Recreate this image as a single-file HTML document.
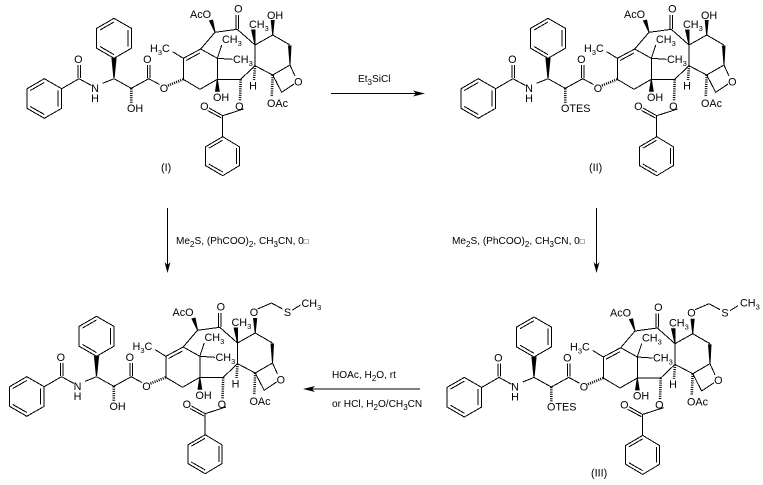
<!DOCTYPE html>
<html><head><meta charset="utf-8"><style>
html,body{margin:0;padding:0;background:#fff}
svg{display:block}
text{font-family:"Liberation Sans",sans-serif;font-size:10.8px;fill:#000}
text.r{font-size:10.1px}
.a{text-anchor:middle}
.l{stroke:#000;stroke-width:1;fill:none;shape-rendering:crispEdges}
.h{stroke:#000;stroke-width:2.6;stroke-dasharray:1 1.2;fill:none}
.w{fill:#000;stroke:none}
</style></head><body>
<svg width="763" height="485" viewBox="0 0 763 485" xmlns="http://www.w3.org/2000/svg">
<defs>
<g id="core">
<g class="l">
<path d="M44.3 78.7L61.7 88.7V108.3L44.3 118.3L27 108.3V88.7Z"/>
<path d="M44.3 82.5L30.3 90.5M58.2 90.5V106.5M44.3 114.5L30.3 106.5"/>
<path d="M61.7 88.7L79 78.7L91.5 85.5M102.7 83.3L114 78.7L131.3 88.3L148.7 78.7L159.5 84.5"/>
<path d="M78 65V78M80.5 65V78M147.5 65V78M150 65V78"/>
<path d="M114 18.3L131.3 28.3V48.3L114 58.3L96.7 48.3V28.3Z"/>
<path d="M114 22L100 30M128 30V46.5M114 54.6L100 46.5"/>
<path d="M172.7 51.7L183.3 58.3V79.3L200 89.3L217.3 79.3V58.3L200.7 49L183.3 58.3M186 60.5L200 53"/>
<path d="M200.7 49L215 32.3L237.3 29.3L255 45L272.7 35L290 45M255 45V65.7"/>
<path d="M236 15V29M238.5 15V29"/>
<path d="M217.3 58.3L221.7 45M217.3 58.3L232.3 59.3"/>
<path d="M217.3 79.3H240.7L255 65.7L272.7 75L290 65"/>
<path d="M290 65L295 76M294 84L281.7 92.3L272.7 75"/>
<path d="M243.5 109L222.7 115.7V136.7M222.7 115.7L209 108M221.5 118L207.5 110.5"/>
<path d="M222.7 136.7L239.3 146.7V165.7L222.7 175.7L205.7 165.7V146.7Z"/>
<path d="M222.7 140.2L208.8 148.2M236.5 148.2V164M222.7 172L208.8 164"/>
</g>
<path class="w" d="M111.4 58H116.6L114.6 78H113.4Z"/>
<path class="w" d="M208.8 20.5L213 19.5L215.5 32.3H214.5Z"/>
<path class="w" d="M251 29.5H255.5L255.5 45H254.5Z"/>
<path class="w" d="M288 45.5H291.5L290.5 65H289.5Z"/>
<path class="w" d="M215 91.7H219.8L217.8 79.3H216.8Z"/>
<path class="h" d="M168 85.5L183.3 79.3M255 66L254 80M240.7 79.5L240 101M272.7 75L271.7 97M131.3 88.5V103"/>
</g>
<g id="chain">
<path class="w" d="M270.7 20H274.7L273.2 35H272.2Z"/>
</g>
<g id="schain">
<path class="w" d="M270.5 20H274.7L273.2 35H272.2Z"/>
<path class="l" d="M275 11L289 5L300 11M310 12L318 7"/>
</g>
</defs>

<!-- I -->
<g>
<use href="#core"/><use href="#chain"/>
<text class="a" x="78.3" y="63">O</text><text class="a" x="147.3" y="63">O</text>
<text class="a" x="164" y="92">O</text><text class="a" x="95" y="92">N</text><text class="a" x="95" y="102">H</text>
<text x="127" y="112">OH</text>
<text x="150" y="52">H<tspan font-size="7.5" dy="3">3</tspan><tspan dy="-3">C</tspan></text>
<text x="190" y="18">AcO</text><text class="a" x="238.3" y="12.5">O</text>
<text x="249" y="28">CH<tspan font-size="7.5" dy="3">3</tspan></text>
<text x="267" y="19">OH</text>
<text x="222" y="43">CH<tspan font-size="7.5" dy="3">3</tspan></text>
<text x="233" y="63">CH<tspan font-size="7.5" dy="3">3</tspan></text>
<text class="a" x="298.3" y="85.5">O</text><text class="a" x="253" y="89.5">H</text>
<text x="213" y="101">OH</text><text class="a" x="239.3" y="110">O</text><text class="a" x="204.3" y="110">O</text>
<text x="267" y="107">OAc</text>
<text x="161" y="171">(I)</text>
</g>

<!-- II -->
<g transform="translate(434,0)">
<use href="#core"/><use href="#chain"/>
<text class="a" x="78.3" y="63">O</text><text class="a" x="147.3" y="63">O</text>
<text class="a" x="164" y="92">O</text><text class="a" x="95" y="92">N</text><text class="a" x="95" y="102">H</text>
<text x="127" y="112">OTES</text>
<text x="150" y="52">H<tspan font-size="7.5" dy="3">3</tspan><tspan dy="-3">C</tspan></text>
<text x="190" y="18">AcO</text><text class="a" x="238.3" y="12.5">O</text>
<text x="249" y="28">CH<tspan font-size="7.5" dy="3">3</tspan></text>
<text x="267" y="19">OH</text>
<text x="222" y="43">CH<tspan font-size="7.5" dy="3">3</tspan></text>
<text x="233" y="63">CH<tspan font-size="7.5" dy="3">3</tspan></text>
<text class="a" x="298.3" y="85.5">O</text><text class="a" x="253" y="89.5">H</text>
<text x="213" y="101">OH</text><text class="a" x="239.3" y="110">O</text><text class="a" x="204.3" y="110">O</text>
<text x="267" y="107">OAc</text>
<text x="155" y="171">(II)</text>
</g>

<!-- lower left -->
<g transform="translate(-17.5,298)">
<use href="#core"/><use href="#schain"/>
<text class="a" x="78.3" y="63">O</text><text class="a" x="147.3" y="63">O</text>
<text class="a" x="164" y="92">O</text><text class="a" x="95" y="92">N</text><text class="a" x="95" y="102">H</text>
<text x="127" y="112">OH</text>
<text x="150" y="52">H<tspan font-size="7.5" dy="3">3</tspan><tspan dy="-3">C</tspan></text>
<text x="190" y="18">AcO</text><text class="a" x="238.3" y="12.5">O</text>
<text x="249" y="28">CH<tspan font-size="7.5" dy="3">3</tspan></text>
<text class="a" x="271.5" y="18">O</text>
<text class="a" x="305" y="18">S</text>
<text x="319" y="9">CH<tspan font-size="7.5" dy="3">3</tspan></text>
<text x="222" y="43">CH<tspan font-size="7.5" dy="3">3</tspan></text>
<text x="233" y="63">CH<tspan font-size="7.5" dy="3">3</tspan></text>
<text class="a" x="298.3" y="85.5">O</text><text class="a" x="253" y="89.5">H</text>
<text x="213" y="101">OH</text><text class="a" x="239.3" y="110">O</text><text class="a" x="204.3" y="110">O</text>
<text x="267" y="107">OAc</text>
</g>

<!-- III -->
<g transform="translate(420,298.7)">
<use href="#core"/><use href="#schain"/>
<text class="a" x="78.3" y="63">O</text><text class="a" x="147.3" y="63">O</text>
<text class="a" x="164" y="92">O</text><text class="a" x="95" y="92">N</text><text class="a" x="95" y="102">H</text>
<text x="127" y="112">OTES</text>
<text x="150" y="52">H<tspan font-size="7.5" dy="3">3</tspan><tspan dy="-3">C</tspan></text>
<text x="190" y="18">AcO</text><text class="a" x="238.3" y="12.5">O</text>
<text x="249" y="28">CH<tspan font-size="7.5" dy="3">3</tspan></text>
<text class="a" x="271.5" y="18">O</text>
<text class="a" x="305" y="18">S</text>
<text x="320" y="8">CH<tspan font-size="7.5" dy="3">3</tspan></text>
<text x="222" y="43">CH<tspan font-size="7.5" dy="3">3</tspan></text>
<text x="233" y="63">CH<tspan font-size="7.5" dy="3">3</tspan></text>
<text class="a" x="298.3" y="85.5">O</text><text class="a" x="253" y="89.5">H</text>
<text x="213" y="101">OH</text><text class="a" x="239.3" y="110">O</text><text class="a" x="204.3" y="110">O</text>
<text x="267" y="107">OAc</text>
<text x="171" y="178">(III)</text>
</g>

<!-- arrows -->
<g class="l">
<path d="M331 93.5H420M167.5 208V268M596.5 208V268M420 389H310"/>
</g>
<path class="w" d="M425 93.5L413 90.5L416 93.5L413 96.5Z"/>
<path class="w" d="M167.5 273L164.5 262L167.5 265L170.5 262Z"/>
<path class="w" d="M596.5 273L593.5 262L596.5 265L599.5 262Z"/>
<path class="w" d="M303 389L315 386L312 389L315 392Z"/>

<text class="r" x="358" y="82">Et<tspan font-size="8" dy="3">3</tspan><tspan dy="-3">SiCl</tspan></text>
<text class="r" x="176" y="244">Me<tspan font-size="8" dy="3">2</tspan><tspan dy="-3">S, (PhCOO)</tspan><tspan font-size="8" dy="3">2</tspan><tspan dy="-3">, CH</tspan><tspan font-size="8" dy="3">3</tspan><tspan dy="-3">CN, 0</tspan><tspan font-size="8">□</tspan></text>
<text class="r" x="452" y="244">Me<tspan font-size="8" dy="3">2</tspan><tspan dy="-3">S, (PhCOO)</tspan><tspan font-size="8" dy="3">2</tspan><tspan dy="-3">, CH</tspan><tspan font-size="8" dy="3">3</tspan><tspan dy="-3">CN, 0</tspan><tspan font-size="8">□</tspan></text>
<text class="r" x="332" y="378">HOAc, H<tspan font-size="8" dy="3">2</tspan><tspan dy="-3">O, rt</tspan></text>
<text class="r" x="332" y="407">or HCl, H<tspan font-size="8" dy="3">2</tspan><tspan dy="-3">O/CH</tspan><tspan font-size="8" dy="3">3</tspan><tspan dy="-3">CN</tspan></text>
</svg>
</body></html>
